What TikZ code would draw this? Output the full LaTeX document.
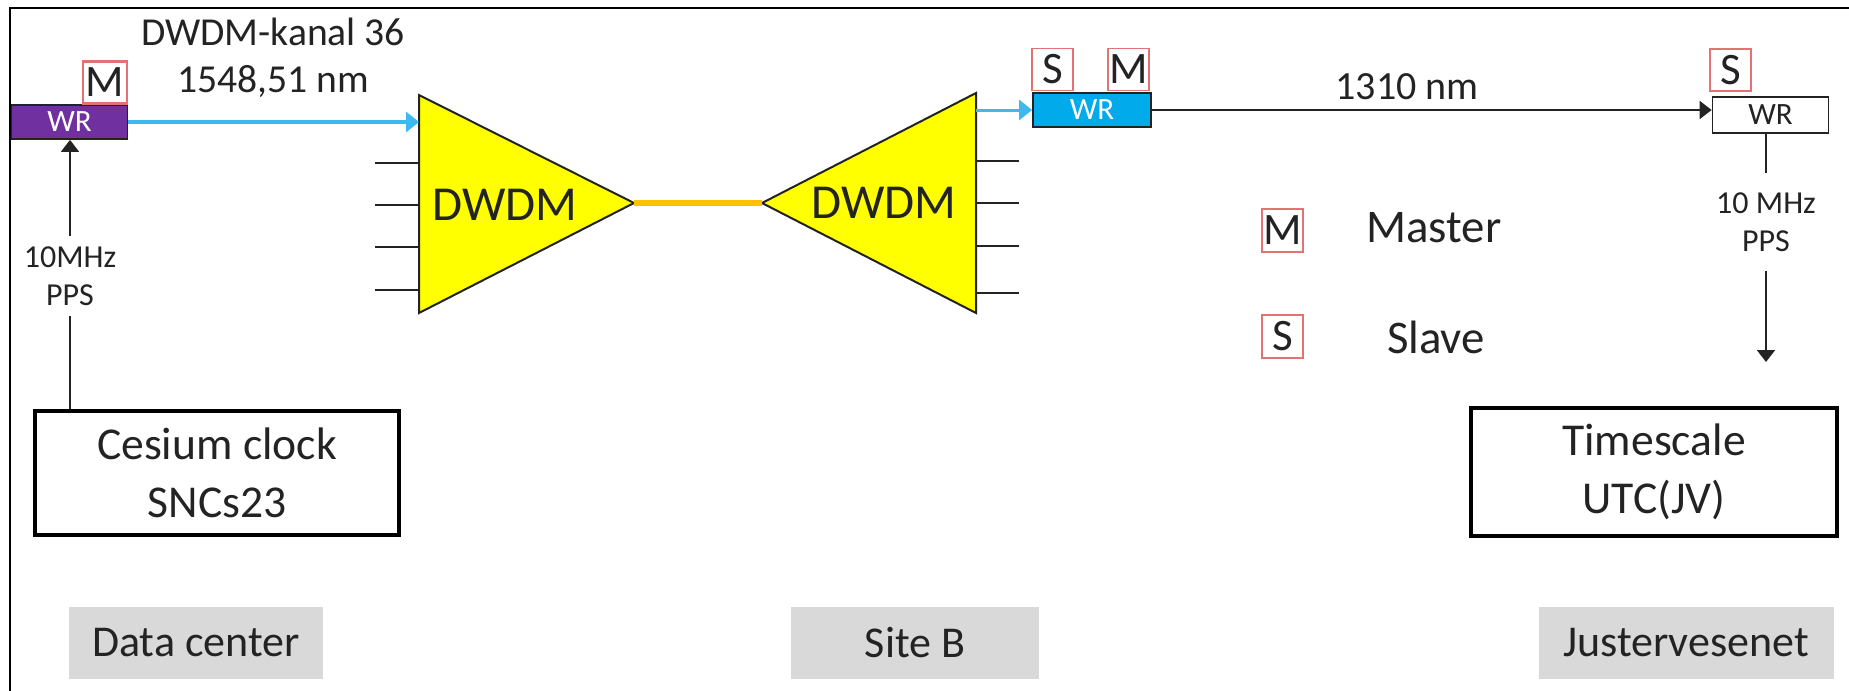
\documentclass[tikz,border=0pt]{standalone}
\usepackage{fontspec}
\setmainfont{Carlito}
\usetikzlibrary{arrows.meta}
\definecolor{wrpurple}{RGB}{112,48,160}
\definecolor{wrblue}{RGB}{0,170,235}
\definecolor{fiberblue}{RGB}{60,185,240}
\definecolor{fiberorange}{RGB}{255,192,0}
\definecolor{tagred}{RGB}{225,115,115}
\definecolor{labelgray}{RGB}{217,217,217}
\definecolor{ink}{RGB}{35,35,35}
\definecolor{muxyellow}{RGB}{255,255,0}
\begin{document}
\begin{tikzpicture}[x=0.5pt,y=-0.5pt,
  wrbox/.style={draw=ink, line width=0.9pt, inner sep=0pt, font=\fontsize{15.5}{16}\selectfont, minimum width=58pt, minimum height=17pt},
  tag/.style={draw=tagred, line width=0.8pt, inner sep=0pt, minimum width=20.5pt, minimum height=21pt, font=\fontsize{22.5}{23}\selectfont, text=ink},
  bigbox/.style={draw=black, line width=2pt, inner sep=0pt, minimum width=182pt, minimum height=62pt, align=center, font=\fontsize{22.8}{29}\selectfont, text=ink},
  site/.style={fill=labelgray, inner sep=0pt, minimum height=36pt, font=\fontsize{22}{22}\selectfont, text=ink},
  mux/.style={draw=ink, line width=1pt, fill=muxyellow, line join=miter},
  stub/.style={draw=ink, line width=1.1pt},
  fiber/.style={draw=fiberblue, line width=1.8pt, -{Triangle[length=6.5pt,width=10pt]}},
  sig/.style={draw=ink, line width=1pt},
  sigarrow/.style={draw=ink, line width=1pt, -{Triangle[length=6pt,width=9pt]}},
  freq/.style={font=\fontsize{16}{19}\selectfont, align=center, inner xsep=1pt, text=ink},
  legendtext/.style={font=\fontsize{23.4}{24}\selectfont, text=ink},
  caption/.style={font=\fontsize{19.8}{23.5}\selectfont, align=center, text=ink}
]
\useasboundingbox (0,0) rectangle (1849,691);
% frame (top and left edges)
\draw[line width=1pt, black] (10,691) -- (10,8) -- (1849,8);

% White Rabbit nodes
\node[wrbox, fill=wrpurple, text=white] (wrL) at (69.5,122) {WR};
\node[tag, minimum width=22pt, line width=1.2pt] (mL) at (105,82.5) {M};
\node[wrbox, fill=wrblue, text=white, minimum width=59pt] (wrB) at (1092,110) {WR};
\node[tag] (sB) at (1052.5,69.5) {S};
\node[tag] (mB) at (1128.5,69.5) {M};
\node[wrbox, fill=white, text=ink, minimum height=18pt] (wrR) at (1770.5,115) {WR};
\node[tag] (sR) at (1730.5,70) {S};

% captions
\node[caption] (cap1) at (273,58) {DWDM-kanal 36\\1548,51 nm};
\node[caption, font=\fontsize{20}{20}\selectfont] (cap2) at (1407,87) {1310 nm};

% DWDM multiplexers
\coordinate (LmuxTop) at (419,95);
\coordinate (LmuxBot) at (419,313);
\coordinate (LmuxApex) at (634,203);
\coordinate (RmuxTop) at (976,93);
\coordinate (RmuxBot) at (976,313);
\coordinate (RmuxApex) at (762,203);
\draw[mux] (LmuxTop) -- (LmuxApex) -- (LmuxBot) -- cycle;
\draw[mux] (RmuxTop) -- (RmuxApex) -- (RmuxBot) -- cycle;
\node[font=\fontsize{24.4}{25}\selectfont, text=ink] (dwdmL) at (505,205) {DWDM};
\node[font=\fontsize{24.4}{25}\selectfont, text=ink] (dwdmR) at (884,203) {DWDM};
\foreach \yy in {163,205,247,290} {\draw[stub] (375,\yy) -- (419,\yy);}
\foreach \yy in {161,203,246,293} {\draw[stub] (976,\yy) -- (1019,\yy);}

% fibres
\coordinate (LmuxIn) at (419,122);
\coordinate (RmuxOut) at (976,110);
\draw[fiber] (wrL.east) -- (LmuxIn);
\draw[draw=fiberorange, line width=2.6pt] (LmuxApex) -- (RmuxApex);
\draw[fiber, line width=1.5pt] (RmuxOut) -- (wrB.west);
\draw[sigarrow] (wrB.east) -- (wrB.east -| wrR.west);

% clocks
\node[bigbox] (cesium) at (217,473) {Cesium clock\\SNCs23};
\node[bigbox, minimum width=183pt, minimum height=64pt] (timescale) at (1654,472) {Timescale\\UTC(JV)};

\node[freq, inner ysep=5pt] (lblL) at (70,276) {10MHz\\PPS};
\draw[sig] (lblL.south |- cesium.north) -- (lblL.south);
\draw[sigarrow] (lblL.north) -- (lblL.north |- wrL.south);

\node[freq, inner ysep=9.5pt] (lblR) at (1766,222) {10 MHz\\PPS};
\coordinate (outR) at (1766,362);
\draw[sig] (lblR.north |- wrR.south) -- (lblR.north);
\draw[sigarrow] (lblR.south) -- (outR);

% legend
\node[tag, minimum height=21.5pt] (legM) at (1282.5,230.5) {M};
\node[legendtext] (legMt) at (1434,228) {Master};
\node[tag, minimum height=21.5pt] (legS) at (1282.5,336.5) {S};
\node[legendtext] (legSt) at (1436,337) {Slave};

% sites
\node[site, minimum width=127pt] (siteA) at (196,643) {Data center};
\node[site, minimum width=124pt] (siteB) at (915,643) {Site B};
\node[site, minimum width=147.5pt] (siteC) at (1686,643) {Justervesenet};
\end{tikzpicture}
\end{document}
